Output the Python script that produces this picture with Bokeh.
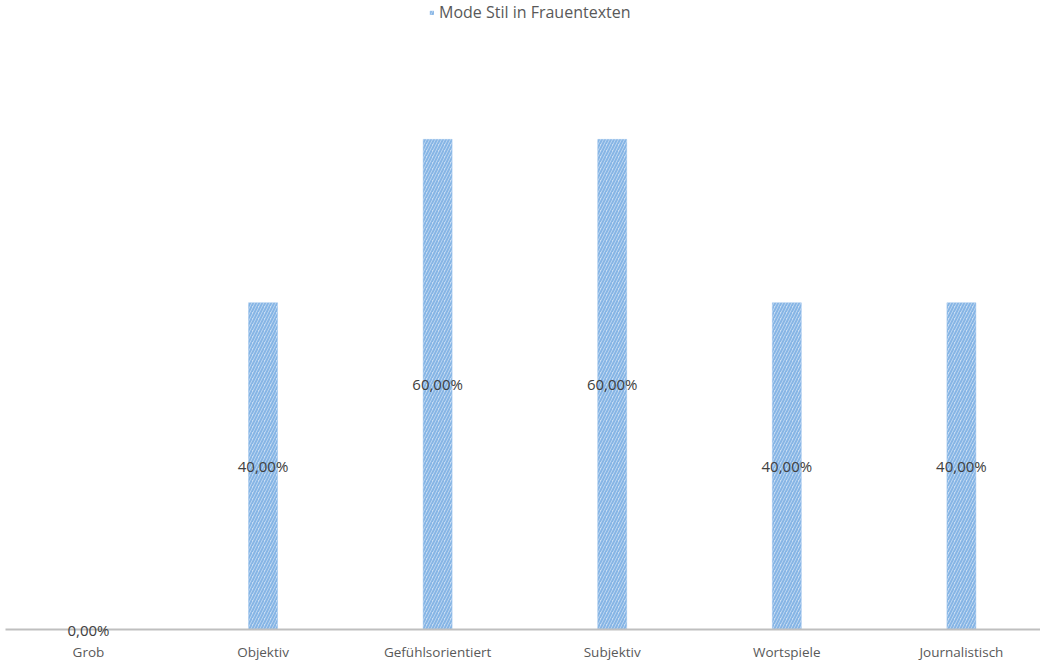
from bokeh.plotting import figure
from bokeh.models import ColumnDataSource, Range1d, FixedTicker, Legend, LegendItem
from bokeh.core.properties import value
from bokeh.embed import file_html
from bokeh.resources import INLINE

categories = ["Grob", "Objektiv", "Gefühlsorientiert", "Subjektiv", "Wortspiele", "Journalistisch"]
values = [0.0, 0.40, 0.60, 0.60, 0.40, 0.40]
series_name = "Mode Stil in Frauentexten"

xs = list(range(len(categories)))
labels = [f"{v*100:.2f}".replace(".", ",") + "%" for v in values]
src = ColumnDataSource(dict(x=xs, top=values, mid=[v / 2 for v in values], label=labels))

p = figure(width=1040, height=663, output_backend="svg", toolbar_location=None,
           x_range=Range1d(-0.475, 5.453), y_range=Range1d(0, 0.770),
           min_border_left=5, min_border_right=0, min_border_top=0, min_border_bottom=0)
p.outline_line_color = None
p.background_fill_color = "white"
p.xgrid.visible = False
p.ygrid.visible = False
p.yaxis.visible = False

r = p.vbar(x="x", top="top", width=0.166, bottom=0, source=src,
           fill_color="#c9ddf3", line_color="#a9cbee", line_width=0.5,
           hatch_pattern="/", hatch_color="#86b5e5", hatch_scale=6, hatch_weight=2)

p.text(x="x", y="mid", text="label", source=src, text_align="center", text_baseline="middle",
       text_font=value("Open Sans"), text_font_size="15px", text_color="#404040",
       level="overlay")

ax = p.xaxis[0]
ax.ticker = FixedTicker(ticks=xs)
ax.major_label_overrides = {i: c for i, c in enumerate(categories)}
ax.axis_line_color = "#bfbfbf"
ax.axis_line_width = 2
ax.major_tick_line_color = None
ax.minor_tick_line_color = None
ax.major_tick_out = 0
ax.major_tick_in = 0
ax.major_label_standoff = 13
ax.major_label_text_font = "Open Sans"
ax.major_label_text_font_size = "13.5px"
ax.major_label_text_color = "#595959"

legend = Legend(items=[LegendItem(label=series_name, renderers=[r])], location=(424, 606),
                orientation="horizontal", glyph_width=5, glyph_height=5, label_height=16,
                padding=0, margin=0, spacing=0, label_standoff=5,
                label_text_font="Open Sans", label_text_font_size="16px", label_text_color="#595959",
                border_line_color=None, background_fill_alpha=0)
p.add_layout(legend)

open("out.html", "w").write(file_html(p, INLINE))
